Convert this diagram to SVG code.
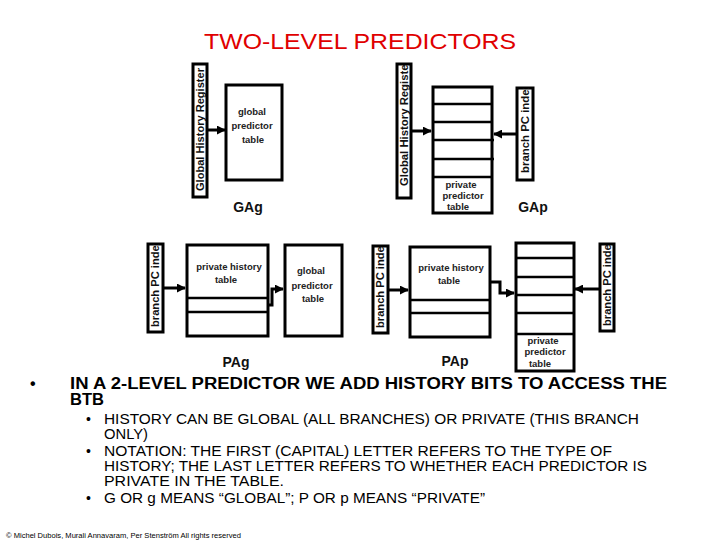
<svg xmlns="http://www.w3.org/2000/svg" width="720" height="540" viewBox="0 0 720 540">
<style>
.box{fill:#fff;stroke:#000;stroke-width:3}
.row{stroke:#000;stroke-width:2.5;fill:none}
.conn{stroke:#000;stroke-width:3;fill:none}
.vt{font-family:"Liberation Sans",Arial,sans-serif;font-weight:bold;font-size:10.5px;fill:#111}
.tt{font-family:"Liberation Sans",Arial,sans-serif;font-weight:bold;font-size:9.5px;fill:#222;text-anchor:middle}
.lbl{font-family:"Liberation Sans",Arial,sans-serif;font-weight:bold;font-size:14px;fill:#111}
.b1{font-family:"Liberation Sans",Arial,sans-serif;font-weight:bold;font-size:16px;fill:#000}
.b2{font-family:"Liberation Sans",Arial,sans-serif;font-size:14px;fill:#000}
</style>
<defs>
<marker id="ah" viewBox="0 0 10 10" refX="9" refY="5" markerWidth="3" markerHeight="3" orient="auto" markerUnits="strokeWidth">
<path d="M0,0 L10,5 L0,10 z" fill="#000"/>
</marker>
<clipPath id="c1"><rect x="193" y="64" width="14" height="133"/></clipPath>
<clipPath id="c2"><rect x="397" y="64" width="14" height="134"/></clipPath>
<clipPath id="c3"><rect x="517" y="88" width="16" height="92"/></clipPath>
<clipPath id="c4"><rect x="148" y="244" width="15" height="88"/></clipPath>
<clipPath id="c5"><rect x="373" y="246" width="15" height="87"/></clipPath>
<clipPath id="c6"><rect x="600" y="244" width="14" height="87"/></clipPath>
</defs>
<rect width="720" height="540" fill="#fff"/>
<text x="360" y="49" text-anchor="middle" font-family="Liberation Sans,Arial,sans-serif" font-size="22" fill="#e00000" textLength="312" lengthAdjust="spacingAndGlyphs">TWO-LEVEL PREDICTORS</text>

<g id="connectors">
<line class="conn" x1="207" y1="130" x2="225" y2="130" marker-end="url(#ah)"/>
<line class="conn" x1="411" y1="131" x2="431" y2="131" marker-end="url(#ah)"/>
<line class="conn" x1="517" y1="134" x2="494" y2="134" marker-end="url(#ah)"/>
<line class="conn" x1="163" y1="288" x2="185" y2="288" marker-end="url(#ah)"/>
<polyline class="conn" points="268,305 272,305 272,289 283,289" marker-end="url(#ah)"/>
<line class="conn" x1="388" y1="290" x2="408" y2="290" marker-end="url(#ah)"/>
<polyline class="conn" points="490,282 500,282 500,293 514,293" marker-end="url(#ah)"/>
<line class="conn" x1="600" y1="289" x2="575" y2="289" marker-end="url(#ah)"/>
</g>

<g id="gag-ghr">
<rect class="box" x="193" y="64" width="14" height="133"/>
<g clip-path="url(#c1)"><text class="vt" transform="translate(204,191) rotate(-90)" textLength="123" lengthAdjust="spacingAndGlyphs">Global History Register</text></g>
</g>
<g id="gag-table">
<rect class="box" x="226" y="85" width="56" height="95"/>
<text class="tt" x="252" y="115">global</text>
<text class="tt" x="252" y="129">predictor</text>
<text class="tt" x="253" y="143">table</text>
</g>
<text class="lbl" x="248" y="212" text-anchor="middle">GAg</text>

<g id="gap-ghr">
<rect class="box" x="397" y="64" width="14" height="134"/>
<g clip-path="url(#c2)"><text class="vt" transform="translate(408,186) rotate(-90)" textLength="126" lengthAdjust="spacingAndGlyphs">Global History Register</text></g>
</g>
<g id="gap-table">
<rect class="box" x="433" y="87" width="59" height="126"/>
<path class="row" d="M433,104 H492 M433,122 H493 M433,140 H494 M433,159 H494 M433,177 H493"/>
<text class="tt" x="461" y="188">private</text>
<text class="tt" x="463" y="199">predictor</text>
<text class="tt" x="458" y="210">table</text>
</g>
<g id="gap-pc">
<rect class="box" x="517" y="88" width="16" height="92"/>
<g clip-path="url(#c3)"><text class="vt" transform="translate(529,173) rotate(-90)" textLength="90" lengthAdjust="spacingAndGlyphs">branch PC index</text></g>
</g>
<text class="lbl" x="533" y="212" text-anchor="middle">GAp</text>

<g id="pag-pc">
<rect class="box" x="148" y="244" width="15" height="88"/>
<g clip-path="url(#c4)"><text class="vt" transform="translate(159,327) rotate(-90)" textLength="88" lengthAdjust="spacingAndGlyphs">branch PC index</text></g>
</g>
<g id="pag-pht">
<rect class="box" x="187" y="245" width="81" height="91"/>
<path class="row" d="M187,298 H268 M187,312 H268"/>
<text class="tt" x="229" y="270">private history</text>
<text class="tt" x="226" y="283">table</text>
</g>
<g id="pag-gpt">
<rect class="box" x="285" y="245" width="57" height="91"/>
<text class="tt" x="311" y="274">global</text>
<text class="tt" x="312" y="289">predictor</text>
<text class="tt" x="313" y="302">table</text>
</g>
<text class="lbl" x="236" y="367" text-anchor="middle">PAg</text>

<g id="pap-pc1">
<rect class="box" x="373" y="246" width="15" height="87"/>
<g clip-path="url(#c5)"><text class="vt" transform="translate(384,328) rotate(-90)" textLength="88" lengthAdjust="spacingAndGlyphs">branch PC index</text></g>
</g>
<g id="pap-pht">
<rect class="box" x="410" y="247" width="80" height="90"/>
<path class="row" d="M410,300 H490 M410,313 H490"/>
<text class="tt" x="451" y="271">private history</text>
<text class="tt" x="449" y="284">table</text>
</g>
<g id="pap-ppt">
<rect class="box" x="516" y="243" width="58" height="128"/>
<path class="row" d="M516,258 H574 M516,277 H574 M516,295 H575 M516,313 H575 M516,334 H574"/>
<text class="tt" x="543" y="344">private</text>
<text class="tt" x="545" y="355">predictor</text>
<text class="tt" x="540" y="367">table</text>
</g>
<g id="pap-pc2">
<rect class="box" x="600" y="244" width="14" height="87"/>
<g clip-path="url(#c6)"><text class="vt" transform="translate(611,326) rotate(-90)" textLength="88" lengthAdjust="spacingAndGlyphs">branch PC index</text></g>
</g>
<text class="lbl" x="455" y="366" text-anchor="middle">PAp</text>

<g id="bullets">
<text class="b1" x="30" y="389">•</text>
<text class="b1" x="70" y="389" textLength="597" lengthAdjust="spacingAndGlyphs">IN A 2-LEVEL PREDICTOR WE ADD HISTORY BITS TO ACCESS THE</text>
<text class="b1" x="70" y="405" textLength="34" lengthAdjust="spacingAndGlyphs">BTB</text>
<text class="b2" x="86" y="424">•</text>
<text class="b2" x="104" y="424" textLength="535" lengthAdjust="spacingAndGlyphs">HISTORY CAN BE GLOBAL (ALL BRANCHES) OR PRIVATE (THIS BRANCH</text>
<text class="b2" x="104" y="439" textLength="44" lengthAdjust="spacingAndGlyphs">ONLY)</text>
<text class="b2" x="86" y="456">•</text>
<text class="b2" x="104" y="456" textLength="508" lengthAdjust="spacingAndGlyphs">NOTATION: THE FIRST (CAPITAL) LETTER REFERS TO THE TYPE OF</text>
<text class="b2" x="104" y="471" textLength="543" lengthAdjust="spacingAndGlyphs">HISTORY; THE LAST LETTER REFERS TO WHETHER EACH PREDICTOR IS</text>
<text class="b2" x="104" y="486" textLength="180" lengthAdjust="spacingAndGlyphs">PRIVATE IN THE TABLE.</text>
<text class="b2" x="86" y="503">•</text>
<text class="b2" x="104" y="503" textLength="381" lengthAdjust="spacingAndGlyphs">G OR g MEANS “GLOBAL”; P OR p MEANS “PRIVATE”</text>
</g>
<text x="6" y="538" font-family="Liberation Sans,Arial,sans-serif" font-size="7" fill="#000" textLength="235" lengthAdjust="spacingAndGlyphs">© Michel Dubois, Murali Annavaram, Per Stenström All rights reserved</text>
</svg>
